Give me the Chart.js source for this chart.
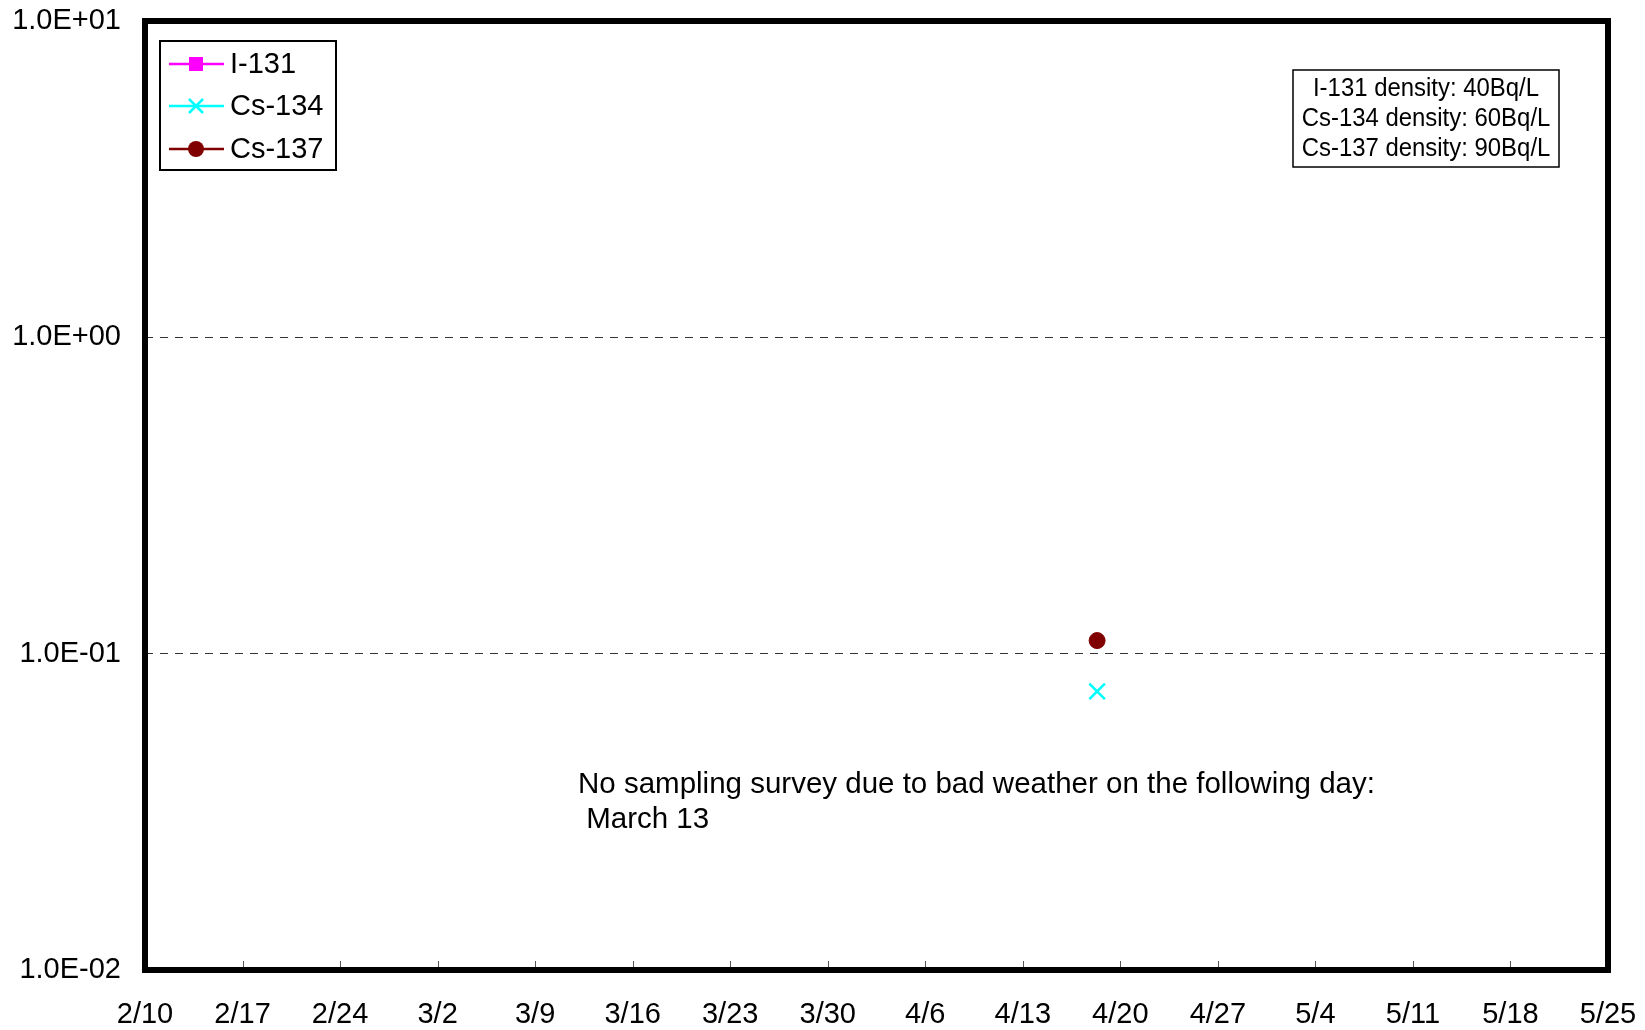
<!DOCTYPE html>
<html>
<head>
<meta charset="utf-8">
<script src="https://cdn.jsdelivr.net/npm/chart.js@4/dist/chart.umd.min.js"></script>
<style>
  html, body { margin: 0; padding: 0; background: #fff; }
  canvas { display: block; }
</style>
</head>
<body>
<canvas id="c" width="1645" height="1030"></canvas>
<script>
// Sampling times and measured densities (Bq/L); null = not detected
const sampleTimes = ['2012-04-18T08:00:00Z'];
const i131 = [null];
const cs134 = [0.076];
const cs137 = [0.11];

const seriesNames = ['I-131', 'Cs-134', 'Cs-137'];

// Axis ticks
const axisStart = '2012-02-10T00:00:00Z';
const xTickLabels = ['2/10', '2/17', '2/24', '3/2', '3/9', '3/16', '3/23', '3/30',
                     '4/6', '4/13', '4/20', '4/27', '5/4', '5/11', '5/18', '5/25'];
const xTickStepDays = 7;
const yTickValues = [0.01, 0.1, 1, 10];
const yTickLabels = ['1.0E-02', '1.0E-01', '1.0E+00', '1.0E+01'];

// Text boxes
const limitLines = ['I-131 density: 40Bq/L', 'Cs-134 density: 60Bq/L', 'Cs-137 density: 90Bq/L'];
const noteLines = ['No sampling survey due to bad weather on the following day:', ' March 13'];

const FONT = '"Liberation Sans", Arial, sans-serif';
const DAY = 86400000;
const t0 = Date.parse(axisStart);
const dayOf = s => (Date.parse(s) - t0) / DAY;
const xMax = (xTickLabels.length - 1) * xTickStepDays;

const toPoints = vals => vals.map((v, i) => ({ x: dayOf(sampleTimes[i]), y: v }));

const datasets = [
  { label: seriesNames[0], data: toPoints(i131), borderColor: '#FF00FF', backgroundColor: '#FF00FF',
    pointStyle: 'rect', pointRadius: 7, borderWidth: 2 },
  { label: seriesNames[1], data: toPoints(cs134), borderColor: '#00FFFF', backgroundColor: '#00FFFF',
    pointStyle: 'crossRot', pointRadius: 11, borderWidth: 2.5 },
  { label: seriesNames[2], data: toPoints(cs137), borderColor: '#800000', backgroundColor: '#800000',
    pointStyle: 'circle', pointRadius: 8, borderWidth: 1 }
].map(d => Object.assign(d, { showLine: true, spanGaps: false, pointHoverRadius: d.pointRadius }));

// Frame, inner x ticks, legend and text boxes
const decorations = {
  id: 'decorations',
  afterDatasetsDraw(chart) {
    const ctx = chart.ctx;
    const a = chart.chartArea;
    const xs = chart.scales.x;
    ctx.save();

    // small inward tick marks on the bottom axis
    ctx.strokeStyle = '#555';
    ctx.lineWidth = 1;
    xs.ticks.forEach(t => {
      const px = Math.round(xs.getPixelForValue(t.value)) + 0.5;
      ctx.beginPath();
      ctx.moveTo(px, a.bottom);
      ctx.lineTo(px, a.bottom - 9);
      ctx.stroke();
    });

    // heavy plot frame
    ctx.strokeStyle = '#000';
    ctx.lineWidth = 6;
    ctx.strokeRect(a.left, a.top, a.right - a.left, a.bottom - a.top);

    // legend
    const lx = 160, ly = 41, lw = 176, lh = 129;
    ctx.fillStyle = '#fff';
    ctx.fillRect(lx, ly, lw, lh);
    ctx.lineWidth = 2;
    ctx.strokeStyle = '#000';
    ctx.strokeRect(lx, ly, lw, lh);
    const rowY = [64, 106, 149];
    chart.data.datasets.forEach((ds, i) => {
      const y = rowY[i];
      ctx.strokeStyle = ds.borderColor;
      ctx.lineWidth = 2.5;
      ctx.beginPath();
      ctx.moveTo(169, y);
      ctx.lineTo(224, y);
      ctx.stroke();
      ctx.fillStyle = ds.backgroundColor;
      ctx.strokeStyle = ds.borderColor;
      ctx.lineWidth = ds.borderWidth;
      ctx.beginPath();
      if (ds.pointStyle === 'rect') {
        ctx.fillRect(189, y - 7, 14, 14);
      } else if (ds.pointStyle === 'circle') {
        ctx.arc(196, y, 8, 0, Math.PI * 2);
        ctx.fill();
      } else {
        ctx.moveTo(189, y - 7); ctx.lineTo(203, y + 7);
        ctx.moveTo(203, y - 7); ctx.lineTo(189, y + 7);
        ctx.stroke();
      }
      ctx.fillStyle = '#000';
      ctx.font = '29px ' + FONT;
      ctx.textAlign = 'left';
      ctx.textBaseline = 'middle';
      ctx.fillText(ds.label, 230, y + 1);
    });

    // limit box
    const bx = 1293, by = 70, bw = 266, bh = 97;
    ctx.fillStyle = '#fff';
    ctx.fillRect(bx, by, bw, bh);
    ctx.strokeStyle = '#000';
    ctx.lineWidth = 1.5;
    ctx.strokeRect(bx, by, bw, bh);
    ctx.fillStyle = '#000';
    ctx.textAlign = 'center';
    ctx.textBaseline = 'middle';
    limitLines.forEach((s, i) => {
      ctx.save();
      ctx.translate(bx + bw / 2, by + 18.5 + i * 30);
      ctx.scale(0.92, 1);
      ctx.font = '26px ' + FONT;
      ctx.fillText(s, 0, 0);
      ctx.restore();
    });

    // note text
    ctx.font = '29.5px ' + FONT;
    ctx.textAlign = 'left';
    ctx.textBaseline = 'middle';
    noteLines.forEach((s, i) => ctx.fillText(s, 578, 785 + i * 35));

    ctx.restore();
  }
};

new Chart(document.getElementById('c'), {
  type: 'scatter',
  data: { datasets },
  options: {
    responsive: false,
    animation: false,
    devicePixelRatio: 1,
    layout: { padding: { left: 0, top: 21, right: 37, bottom: 0 } },
    plugins: { legend: { display: false }, tooltip: { enabled: false } },
    scales: {
      x: {
        type: 'linear',
        min: 0,
        max: xMax,
        afterFit: s => { s.height = 60; s.paddingLeft = 0; s.paddingRight = 0; },
        afterBuildTicks: s => {
          s.ticks = xTickLabels.map((_, i) => ({ value: i * xTickStepDays }));
        },
        ticks: {
          autoSkip: false,
          maxRotation: 0,
          padding: 28,
          color: '#000',
          font: { family: FONT, size: 29 },
          callback: (v, i) => xTickLabels[i]
        },
        grid: { display: false, drawTicks: false },
        border: { display: false }
      },
      y: {
        type: 'logarithmic',
        min: yTickValues[0],
        max: yTickValues[yTickValues.length - 1],
        afterFit: s => { s.width = 145; s.paddingTop = 0; s.paddingBottom = 0; },
        afterBuildTicks: s => {
          s.ticks = yTickValues.map(v => ({ value: v }));
        },
        ticks: {
          autoSkip: false,
          padding: 24,
          color: '#000',
          font: { family: FONT, size: 29 },
          callback: (v, i) => yTickLabels[i]
        },
        grid: {
          drawTicks: false,
          color: c => (c.index === 0 || c.index === yTickValues.length - 1) ? 'rgba(0,0,0,0)' : '#333',
          lineWidth: 1
        },
        border: { display: false, dash: [8, 7] }
      }
    }
  },
  plugins: [decorations]
});
</script>
</body>
</html>
